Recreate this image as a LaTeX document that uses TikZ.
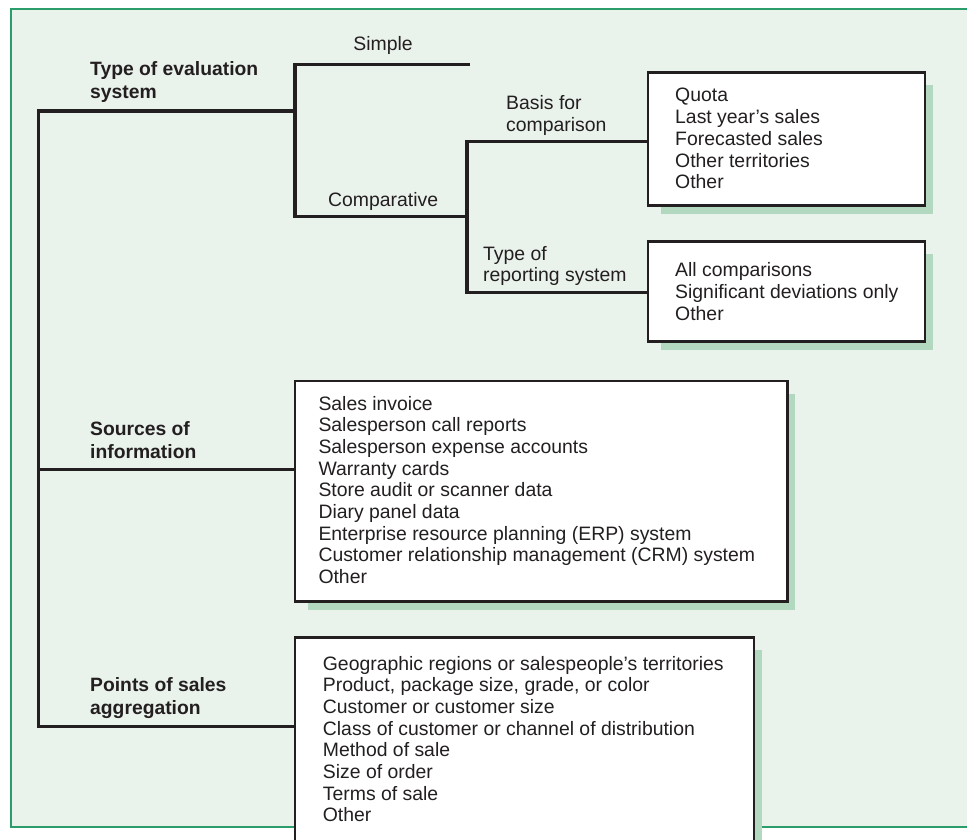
\documentclass[tikz,border=0pt]{standalone}
\usepackage{fontspec}
\setmainfont{Liberation Sans}
\definecolor{panelbg}{RGB}{234,242,236}
\definecolor{panelrule}{RGB}{42,157,107}
\definecolor{shadowgreen}{RGB}{178,216,192}
\definecolor{ink}{RGB}{35,31,32}
% a left-aligned stack of lines whose baseline is the first line
\newcommand\linestack[1]{\begin{tabular}[t]{@{}l@{}}#1\end{tabular}}
\tikzset{
  conn/.style={draw=ink, line width=3.1pt, line join=miter},
  listbox/.style={draw=ink, fill=white, line width=2.5pt, rectangle, inner sep=0pt},
  plain/.style={text=ink, inner sep=0pt, anchor=base west, font=\fontsize{19.4}{21.7}\selectfont},
  heading/.style={text=ink, inner sep=0pt, anchor=base west, font=\bfseries\fontsize{19.3}{23}\selectfont},
}
\begin{document}
\begin{tikzpicture}[x=1pt, y=-1pt]
  \useasboundingbox (0,0) rectangle (967,840);
  \clip (0,0) rectangle (967,840);
  % panel
  \fill[white] (0,0) rectangle (967,840);
  \fill[panelbg] (11,9) rectangle (980,826.7);
  \draw[panelrule, line width=2pt] (11,9) rectangle (980,826.7);

  % list boxes
  \node[listbox, minimum width=277, minimum height=133] (b1) at (786.5,139.2) {};
  \node[listbox, minimum width=277, minimum height=100] (b2) at (786.5,291.7) {};
  \node[listbox, minimum width=492.7, minimum height=220.7] (b3) at (541.35,491.35) {};
  \node[listbox, minimum width=459.2, minimum height=207.7] (b4) at (524.6,741.15) {};

  % drop shadows behind the boxes
  \foreach \b in {b1,b2,b3,b4}{
    \fill[shadowgreen] ([shift={(14,7)}]\b.south west) rectangle ([shift={(6.5,14)}]\b.north east);
  }
  % boxes again, on top of the shadows
  \node[listbox, minimum width=277, minimum height=133] at (b1) {};
  \node[listbox, minimum width=277, minimum height=100] at (b2) {};
  \node[listbox, minimum width=492.7, minimum height=220.7] at (b3) {};
  \node[listbox, minimum width=459.2, minimum height=207.7] at (b4) {};

  % junctions of the tree
  \coordinate (tTop) at (38.7,111);
  \coordinate (tSrc) at (38.7,469.3);
  \coordinate (tPts) at (38.7,726.7);
  \coordinate (v2top) at (295,64.3);
  \coordinate (v2mid) at (295,111);
  \coordinate (v2bot) at (295,216.7);
  \coordinate (simpleEnd) at (470,64.3);
  \coordinate (v3top) at (467,141.7);
  \coordinate (v3mid) at (467,216.7);
  \coordinate (v3bot) at (467,292.7);

  % connectors
  \draw[conn] (v2mid) -- (tTop) -- (tPts) -- (tPts -| b4.west);
  \draw[conn] (tSrc) -- (tSrc -| b3.west);
  \draw[conn] (simpleEnd) -- (v2top) -- (v2bot) -- (v3mid);
  \draw[conn] (v3top -| b1.west) -- (v3top) -- (v3bot) -- (v3bot -| b2.west);

  % headings
  \node[heading] (hEval) at (90,76) {\linestack{Type of evaluation\\system}};
  \node[heading] (hSrc) at (90,435) {\linestack{Sources of\\information}};
  \node[heading] (hPts) at (90,691.7) {\linestack{Points of sales\\aggregation}};

  % branch labels
  \node[plain, anchor=base] (lSimple) at (383,51) {Simple};
  \node[plain] (lComp) at (328,206.5) {Comparative};
  \node[plain] (lBasis) at (506,110) {\linestack{Basis for\\comparison}};
  \node[plain] (lRep) at (483,260) {\linestack{Type of\\reporting system}};

  % box contents
  \node[plain] (t1) at (675,102) {\linestack{Quota\\Last year’s sales\\Forecasted sales\\Other territories\\Other}};
  \node[plain] (t2) at (675,276.7) {\linestack{All comparisons\\Significant deviations only\\Other}};
  \node[plain] (t3) at (318.3,410) {\linestack{Sales invoice\\Salesperson call reports\\Salesperson expense accounts\\Warranty cards\\Store audit or scanner data\\Diary panel data\\Enterprise resource planning (ERP) system\\Customer relationship management (CRM) system\\Other}};
  \node[plain] (t4) at (322.7,670) {\linestack{Geographic regions or salespeople’s territories\\Product, package size, grade, or color\\Customer or customer size\\Class of customer or channel of distribution\\Method of sale\\Size of order\\Terms of sale\\Other}};
\end{tikzpicture}
\end{document}
